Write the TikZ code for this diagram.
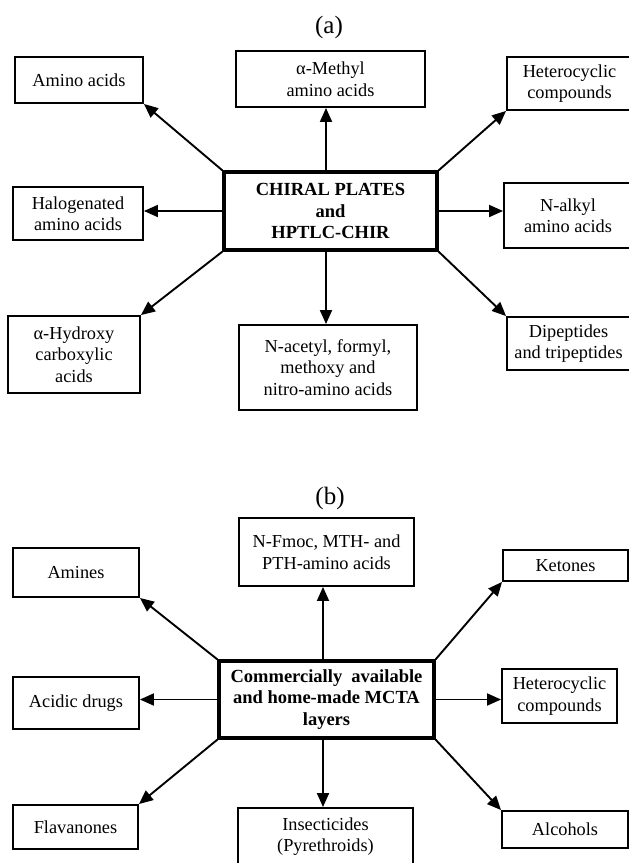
\documentclass[tikz,border=0pt]{standalone}
\usepackage{fontspec}
\setmainfont{Liberation Serif}
\usetikzlibrary{arrows.meta}
\begin{document}
\begin{tikzpicture}[x=1pt,y=-1pt,
  box/.style={draw=black, line width=1.9pt, inner sep=0pt, align=center,
    font=\fontsize{18.3}{21.5}\selectfont},
  hub/.style={draw=black, line width=3.2pt, inner sep=0pt, align=center,
    font=\fontsize{18.5}{21.5}\selectfont\bfseries},
  panel/.style={font=\fontsize{25}{28}\selectfont},
  arr/.style={line width=1.9pt, -{Triangle[length=14pt,width=12pt]}}]
\useasboundingbox (0,0) rectangle (629,863);
\clip (0,0) rectangle (629,863);

% ---------- (a) ----------
\node[panel] (pa) at (329,27) {(a)};
\node[hub, minimum width=213, minimum height=78] (ca) at (330.5,211)
  {CHIRAL PLATES\\and\\HPTLC-CHIR};
\node[box, minimum width=128, minimum height=46] (aa) at (79,80) {Amino acids};
\node[box, minimum width=189, minimum height=56] (am) at (330.5,79) {α-Methyl\\amino acids};
\node[box, minimum width=125, minimum height=53] (ah) at (569.5,83.5) {Heterocyclic\\compounds};
\node[box, minimum width=130, minimum height=53] (ag) at (78,213.5) {Halogenated\\amino acids};
\node[box, minimum width=132, minimum height=77] (ahy) at (74,354.5) {α-Hydroxy\\carboxylic\\acids};
\node[box, minimum width=178, minimum height=85] (an) at (328,367.5) {N-acetyl, formyl,\\methoxy and\\nitro-amino acids};
\node[box, minimum width=128, minimum height=65] (ak) at (568,215.5) {N-alkyl\\amino acids};
\node[box, minimum width=123, minimum height=53] (ad) at (568.5,343.5) {Dipeptides\\and tripeptides};

\draw[arr] (ca.north west) -- (aa.south east);
\draw[arr] ([xshift=-4.5]ca.north) -- ([xshift=-4.5]ca.north |- am.south);
\draw[arr] (ca.north east) -- (ah.south west);
\draw[arr] (ca.west) -- (ca.west -| ag.east);
\draw[arr] (ca.south west) -- (ahy.north east);
\draw[arr] ([xshift=-4.5]ca.south) -- ([xshift=-4.5]ca.south |- an.north);
\draw[arr] (ca.east) -- (ca.east -| ak.west);
\draw[arr] (ca.south east) -- (ad.north west);

% ---------- (b) ----------
\node[panel] (pb) at (330,498) {(b)};
\node[hub, minimum width=215, minimum height=77] (cb) at (326.5,699.5)
  {Commercially\ \ available\\and home-made MCTA\\layers};
\node[box, minimum width=126, minimum height=49] (bam) at (76,572.5) {Amines};
\node[box, minimum width=175, minimum height=68] (bf) at (326.5,552) {N-Fmoc, MTH- and\\PTH-amino acids};
\node[box, minimum width=125, minimum height=31] (bk) at (565.5,565.5) {Ketones};
\node[box, minimum width=126, minimum height=52] (bac) at (76,703) {Acidic drugs};
\node[box, minimum width=115, minimum height=54] (bh) at (559.5,696) {Heterocyclic\\compounds};
\node[box, minimum width=125, minimum height=44] (bfl) at (75.5,827) {Flavanones};
\node[box, minimum width=175, minimum height=57] (bi) at (325.5,836.5) {Insecticides\\(Pyrethroids)};
\node[box, minimum width=126, minimum height=37] (bal) at (565,829.5) {Alcohols};

\draw[arr] (cb.north west) -- (bam.south east);
\draw[arr] ([xshift=-3.5]cb.north) -- ([xshift=-3.5]cb.north |- bf.south);
\draw[arr] (cb.north east) -- (bk.south west);
\draw[arr] (cb.west) -- (cb.west -| bac.east);
\draw[arr] (cb.east) -- (cb.east -| bh.west);
\draw[arr] (cb.south west) -- (bfl.north east);
\draw[arr] ([xshift=-3.5]cb.south) -- ([xshift=-3.5]cb.south |- bi.north);
\draw[arr] (cb.south east) -- (bal.north west);
\end{tikzpicture}
\end{document}
